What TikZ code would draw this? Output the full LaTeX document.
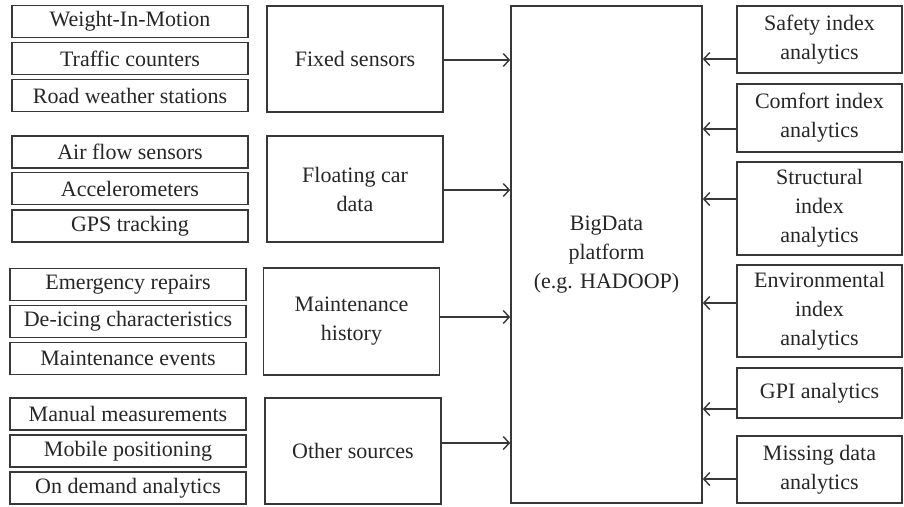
\documentclass[tikz,border=0pt]{standalone}
\usepackage{fontspec}
\setmainfont{Liberation Serif}
\usetikzlibrary{arrows.meta,calc}
\begin{document}
\begin{tikzpicture}[x=1pt,y=-1pt,
  box/.style={draw=black!78,line width=1.6pt,inner sep=0pt,align=center,
    text=black!85,font=\fontsize{22}{29}\selectfont},
  small/.style={box,minimum width=236pt,minimum height=32pt},
  grp/.style={box,minimum width=176pt,minimum height=106pt},
  ana/.style={box,minimum width=165pt},
  arr/.style={draw=black!78,line width=1.6pt,-{Straight Barb[length=6pt,width=13pt,line width=1.4pt]}}]
\useasboundingbox (0,0) rectangle (904,506);
% left detail boxes
\node[small] (w1) at (130,21.5) {Weight-In-Motion};
\node[small] (w2) at (130,58.5) {Traffic counters};
\node[small] (w3) at (130,95.5) {Road weather stations};
\node[small] (f1) at (130,152) {Air flow sensors};
\node[small] (f2) at (130,188.5) {Accelerometers};
\node[small] (f3) at (130,226) {GPS tracking};
\node[small] (m1) at (128,284.5) {Emergency repairs};
\node[small] (m2) at (128,321.5) {De-icing characteristics};
\node[small] (m3) at (128,358.5) {Maintenance events};
\node[small] (o1) at (128,414) {Manual measurements};
\node[small] (o2) at (128,451) {Mobile positioning};
\node[small] (o3) at (128,488) {On demand analytics};
% group boxes
\node[grp] (g1) at (355,59) {Fixed sensors};
\node[grp] (g2) at (355,189) {Floating car\\data};
\node[grp,minimum height=107pt] (g3) at (351.5,321.5) {Maintenance\\history};
\node[grp] (g4) at (353,451) {Other sources};
% platform
\node[box,minimum width=191pt,minimum height=497pt] (big) at (606.5,254.5) {BigData\\platform\\(e.g. HADOOP)};
% analytics boxes
\node[ana,minimum height=67pt] (a1) at (819.5,39.5) {Safety index\\analytics};
\node[ana,minimum height=68pt] (a2) at (819.5,118) {Comfort index\\analytics};
\node[ana,minimum height=93pt] (a3) at (819.5,208.5) {Structural\\index\\analytics};
\node[ana,minimum height=92pt] (a4) at (819.5,311) {Environmental\\index\\analytics};
\node[ana,minimum height=50pt] (a5) at (819.5,393) {GPI analytics};
\node[ana,minimum height=67pt] (a6) at (819.5,469.5) {Missing data\\analytics};
% left arrows
\draw[arr] ($(g1.east)+(0,1)$) -- ($(g1.east -| big.west)+(0,1)$);
\draw[arr] ($(g2.east)+(0,1)$) -- ($(g2.east -| big.west)+(0,1)$);
\draw[arr] ($(g3.east)+(0,-4.5)$) -- ($(g3.east -| big.west)+(0,-4.5)$);
\draw[arr] ($(g4.east)+(0,-8)$) -- ($(g4.east -| big.west)+(0,-8)$);
% right arrows
\draw[arr] ($(a1.west)+(0,19.5)$) -- ($(a1.west -| big.east)+(0,19.5)$);
\draw[arr] ($(a2.west)+(0,11)$) -- ($(a2.west -| big.east)+(0,11)$);
\draw[arr] ($(a3.west)+(0,-9.5)$) -- ($(a3.west -| big.east)+(0,-9.5)$);
\draw[arr] ($(a4.west)+(0,-8)$) -- ($(a4.west -| big.east)+(0,-8)$);
\draw[arr] ($(a5.west)+(0,16)$) -- ($(a5.west -| big.east)+(0,16)$);
\draw[arr] ($(a6.west)+(0,9.5)$) -- ($(a6.west -| big.east)+(0,9.5)$);
\end{tikzpicture}
\end{document}
